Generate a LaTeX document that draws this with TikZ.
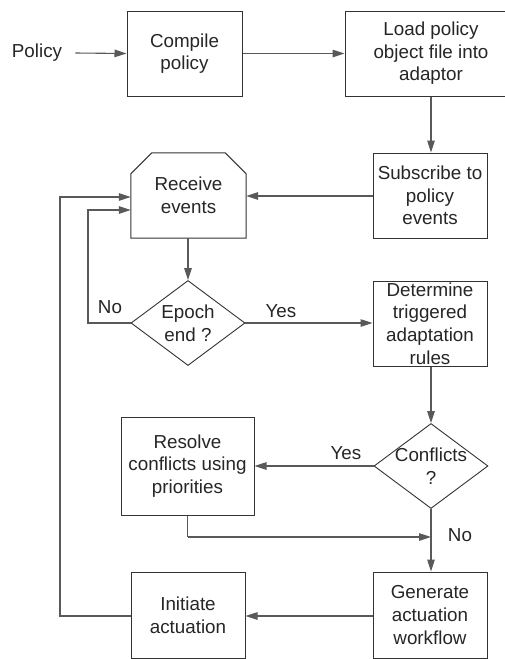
\documentclass[tikz,border=0pt]{standalone}
\usepackage{fontspec}
\setmainfont{Liberation Sans}
\usetikzlibrary{arrows.meta,shapes.geometric,calc}
\begin{document}
\begin{tikzpicture}[x=1pt,y=-1pt,
  every node/.style={font=\fontsize{18.8}{22.6}\selectfont, text=black!85, inner sep=0pt, align=center},
  box/.style={draw=black!80, line width=1pt, rectangle, minimum width=114pt, minimum height=85pt},
  decision/.style={draw=black!80, line width=0.9pt, diamond, minimum width=114pt, minimum height=85pt},
  conn/.style={draw=black!65, line width=1.1pt, -{Triangle[length=12pt,width=7.5pt]}},
  plain/.style={draw=black!65, line width=1.1pt},
  lbl/.style={}]
\useasboundingbox (0,0) rectangle (505,659);
\fill[white] (0,0) rectangle (505,659);

\node (pol) at (37,53) {Policy};
\node[box, minimum width=115pt] (compile) at (184.5,53.5) {Compile\\policy};
\node[box, minimum width=172pt] (loadbox) at (431,53.5) {};
\node (load) at (431,53.5) {Load policy\\object file into\\adaptor};
\node[box] (subscribe) at (430,195.5) {Subscribe to\\policy\\events};
\node[minimum width=115pt, minimum height=85pt] (receive) at (188.5,195.5) {Receive\\events};
\draw[draw=black!80, line width=1pt]
  (receive.south west) -- ($(receive.north west)+(0,21)$) -- ($(receive.north west)+(21,0)$)
  -- ($(receive.north east)+(-21,0)$) -- ($(receive.north east)+(0,21)$) -- (receive.south east) -- cycle;
\node[decision] (epoch) at (188,323) {};
\node at (188,323) {Epoch\\end ?};
\node[box] (determine) at (430,323.5) {Determine\\triggered\\adaptation\\rules};
\node[decision] (conflicts) at (431,466) {};
\node at (431,466) {Conflicts\\?};
\node[box, minimum width=133pt, minimum height=98pt] (resolve) at (187.5,466) {Resolve\\conflicts using\\priorities};
\node[box, minimum height=86pt] (generate) at (430,615) {Generate\\actuation\\workflow};
\node[box, minimum height=86pt] (initiate) at (188,615) {Initiate\\actuation};

\node[lbl] (yes1) at (281,311) {Yes};
\node[lbl] (no1) at (110,307) {No};
\node[lbl] (yes2) at (346,453) {Yes};
\node[lbl] (no2) at (460,535) {No};

\coordinate (join) at (431,537);
\coordinate (loopin) at (88,323);
\coordinate (loopout) at (60,616);

\draw[conn] ([xshift=13pt]pol.east) -- (compile.west);
\draw[conn] (compile.east) -- (loadbox.west |- compile.east);
\draw[conn] (loadbox.south -| conflicts.north) -- (subscribe.north -| conflicts.north);
\draw[conn] (subscribe.west |- 0,196) -- (receive.east |- 0,196);
\draw[conn] (receive.south -| epoch.north) -- (epoch.north);
\draw[conn] (epoch.east) -- (determine.west |- epoch.east);
\draw[conn] (epoch.west) -- (loopin) -- (loopin |- 0,210) -- (receive.west |- 0,210);
\draw[conn] (determine.south -| conflicts.north) -- (conflicts.north);
\draw[conn] (conflicts.west) -- (resolve.east |- conflicts.west);
\draw[plain] (resolve.south) -- (resolve.south |- join);
\draw[conn] (resolve.south |- join) -- (join);
\draw[conn] (conflicts.south) -- (generate.north -| conflicts.south);
\draw[conn] (generate.west |- 0,616) -- (initiate.east |- 0,616);
\draw[conn] (initiate.west |- loopout) -- (loopout) -- (loopout |- 0,197) -- (receive.west |- 0,197);
\end{tikzpicture}
\end{document}
